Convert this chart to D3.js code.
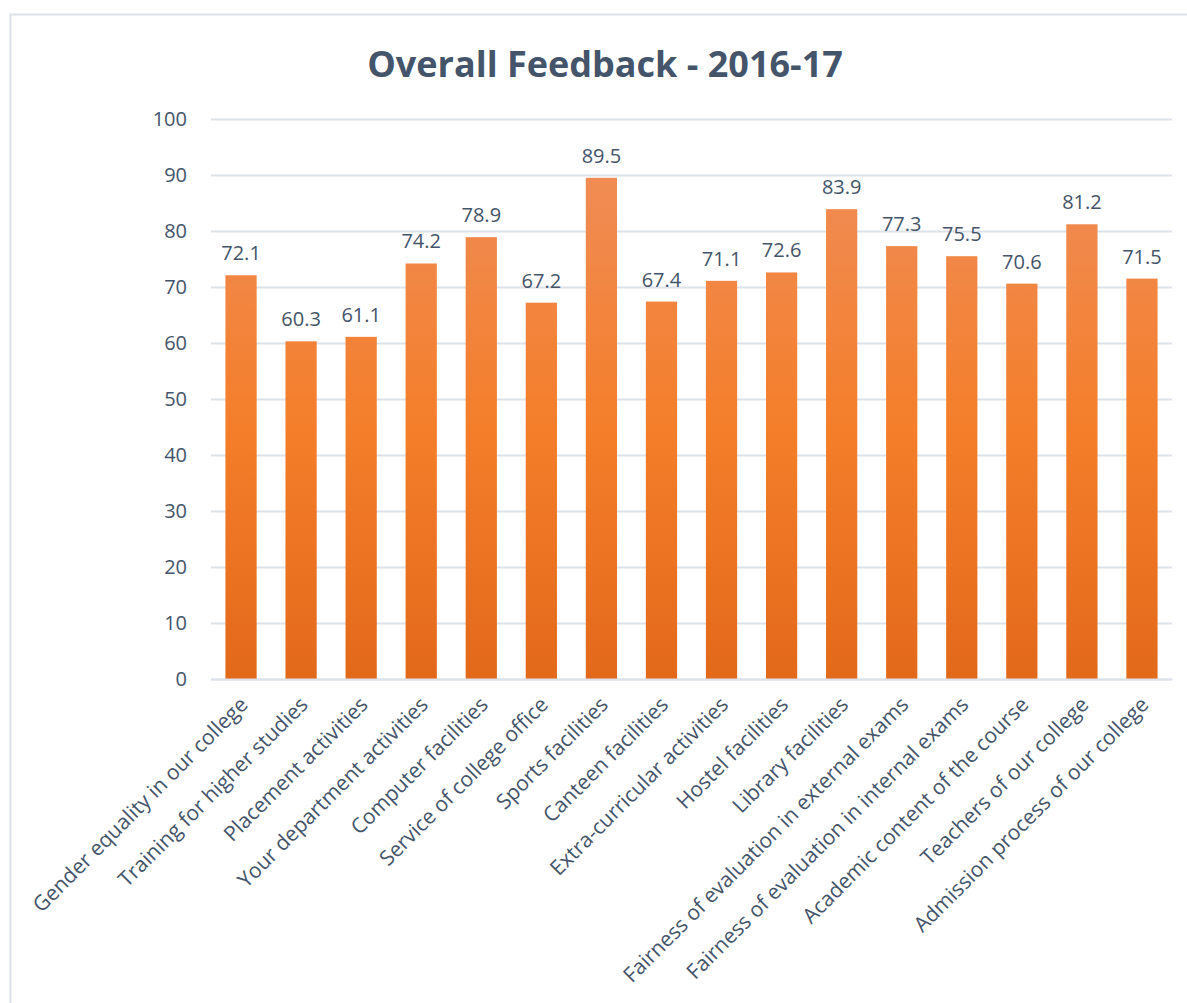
<!DOCTYPE html>
<html>
<head>
<meta charset="utf-8">
<script src="https://cdn.jsdelivr.net/npm/d3@7"></script>
<style>
  html, body { margin: 0; padding: 0; background: #fff; }
  svg { display: block; }
</style>
</head>
<body>
<svg id="chart" width="1187" height="1003"></svg>
<script>
const categories = [
  "Gender equality in our college",
  "Training for higher studies",
  "Placement activities",
  "Your department activities",
  "Computer facilities",
  "Service of college office",
  "Sports facilities",
  "Canteen facilities",
  "Extra-curricular activities",
  "Hostel facilities",
  "Library facilities",
  "Fairness of evaluation in external exams",
  "Fairness of evaluation in internal exams",
  "Academic content of the course",
  "Teachers of our college",
  "Admission process of our college"
];
const values = [72.1, 60.3, 61.1, 74.2, 78.9, 67.2, 89.5, 67.4, 71.1, 72.6, 83.9, 77.3, 75.5, 70.6, 81.2, 71.5];
const yTicks = [0, 10, 20, 30, 40, 50, 60, 70, 80, 90, 100];
const title = "Overall Feedback - 2016-17";

const svg = d3.select("#chart");
const W = 1187, H = 1003;
const m = { left: 211, right: 1172, top: 119, bottom: 679 };
const textColor = "#44546A";
const gridColor = "#DDE2EA";

// chart frame
svg.append("rect").attr("x", 10.5).attr("y", 14.5).attr("width", W + 20).attr("height", H + 20)
  .attr("fill", "#fff").attr("stroke", "#DDE2EA").attr("stroke-width", 2);

// gradient
const defs = svg.append("defs");
const grad = defs.append("linearGradient").attr("id", "barGrad")
  .attr("gradientUnits", "userSpaceOnUse")
  .attr("x1", 0).attr("x2", 0).attr("y1", m.top + 0.1 * (m.bottom - m.top)).attr("y2", m.bottom);
grad.append("stop").attr("offset", "0%").attr("stop-color", "#F08C55");
grad.append("stop").attr("offset", "50%").attr("stop-color", "#F47E2A");
grad.append("stop").attr("offset", "100%").attr("stop-color", "#E3691A");

const x = d3.scaleBand().domain(categories).range([m.left, m.right]).paddingInner(0.48).paddingOuter(0.24);
const y = d3.scaleLinear().domain([0, 100]).range([m.bottom, m.top]);

// title
svg.append("text").attr("x", 605).attr("y", 77).attr("text-anchor", "middle")
  .attr("font-family", "'Open Sans', sans-serif").attr("font-weight", "bold")
  .attr("font-size", 36).attr("fill", textColor).text(title);

// grid
const yAxis = d3.axisLeft(y).tickValues(yTicks).tickSize(-(m.right - m.left)).tickFormat(d3.format("d")).tickPadding(24);
const gy = svg.append("g").attr("transform", `translate(${m.left},0)`).call(yAxis);
gy.select(".domain").remove();
gy.selectAll(".tick line").attr("stroke", gridColor).attr("stroke-width", 2);
gy.selectAll(".tick text").attr("font-family", "'Open Sans', sans-serif").attr("font-size", 20)
  .attr("fill", textColor);

// bars
svg.append("g").selectAll("rect").data(values).join("rect")
  .attr("x", (d, i) => x(categories[i]))
  .attr("y", d => y(d))
  .attr("width", x.bandwidth())
  .attr("height", d => y(0) - y(d))
  .attr("fill", "url(#barGrad)");

// value labels
svg.append("g").selectAll("text").data(values).join("text")
  .attr("x", (d, i) => x(categories[i]) + x.bandwidth() / 2)
  .attr("y", d => y(d) - 15)
  .attr("text-anchor", "middle")
  .attr("font-family", "'Open Sans', sans-serif").attr("font-size", 20)
  .attr("fill", textColor)
  .text(d => d.toFixed(1));

// x axis
const xAxis = d3.axisBottom(x).tickSize(0).tickPadding(0);
const gx = svg.append("g").attr("transform", `translate(0,${m.bottom})`).call(xAxis);
gx.select(".domain").attr("stroke", gridColor).attr("stroke-width", 2);
gx.selectAll(".tick text")
  .attr("font-family", "'Open Sans', sans-serif").attr("font-size", 21)
  .attr("fill", textColor)
  .attr("text-anchor", "end")
  .attr("dy", null).attr("y", 0)
  .attr("transform", "translate(8,27) rotate(-45)");
</script>
</body>
</html>
